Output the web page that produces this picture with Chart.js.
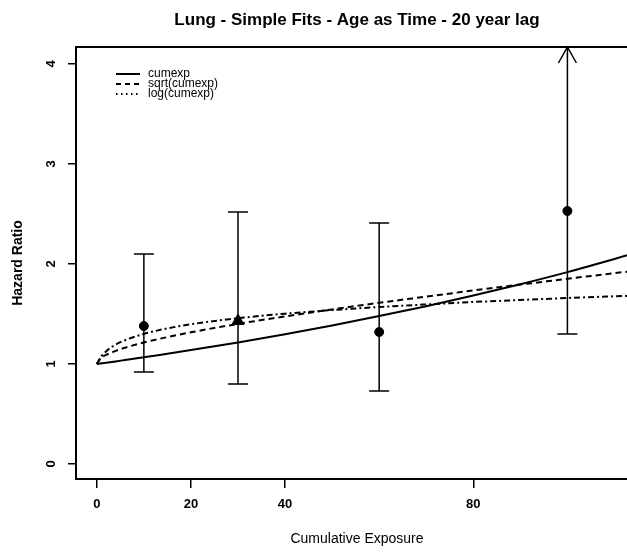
<!DOCTYPE html>
<html>
<head>
<meta charset="utf-8">
<script src="https://cdn.jsdelivr.net/npm/chart.js@4/dist/chart.umd.min.js"></script>
<style>
  html, body { margin: 0; padding: 0; background: #fff; overflow: hidden; }
  canvas { display: block; }
</style>
</head>
<body>
<canvas id="fitChart" width="646" height="553"></canvas>
<script>
// values
const ptX = [10, 30, 60, 100];
const ptHR = [1.38, 1.43, 1.32, 2.53];
const ciLo = [0.92, 0.80, 0.73, 1.30];
const ciHi = [2.10, 2.52, 2.41, null];   // null = off the top, drawn as arrow
const ptStyle = ['circle', 'triangle', 'circle', 'circle'];

const curveX = [0, 1, 2, 4, 6, 10, 15, 20, 30, 40, 50, 60, 70, 80, 90, 100, 115];
const fitLin = [1.00, 1.007, 1.013, 1.026, 1.040, 1.067, 1.103, 1.139, 1.216, 1.298, 1.385, 1.479, 1.578, 1.684, 1.798, 1.919, 2.117];
const fitSqrt = [1.00, 1.064, 1.091, 1.131, 1.163, 1.215, 1.269, 1.317, 1.401, 1.476, 1.546, 1.612, 1.674, 1.735, 1.794, 1.852, 1.936];
const fitLog = [1.00, 1.079, 1.128, 1.193, 1.238, 1.301, 1.356, 1.397, 1.458, 1.503, 1.539, 1.570, 1.596, 1.620, 1.640, 1.660, 1.685];

const seriesNames = ['cumexp', 'sqrt(cumexp)', 'log(cumexp)'];
const xTicks = [0, 20, 40, 80];
const yTicks = [0, 1, 2, 3, 4];

const chartTitle = 'Lung - Simple Fits - Age as Time - 20 year lag';
const xTitle = 'Cumulative Exposure';
const yTitle = 'Hazard Ratio';

const toXY = ys => curveX.map((x, i) => ({ x: x, y: ys[i] }));

// error bars, box, title and in-plot legend
const extras = {
    id: 'extras',
    beforeDatasetsDraw(chart) {
        const ctx = chart.ctx;
        const area = chart.chartArea;
        const xs = chart.scales.x, ys = chart.scales.y;
        ctx.save();
        ctx.strokeStyle = '#000';
        ctx.lineWidth = 1.5;
        ptX.forEach((v, i) => {
            const px = xs.getPixelForValue(v);
            const lo = ys.getPixelForValue(ciLo[i]);
            const hi = ciHi[i] === null ? area.top : ys.getPixelForValue(ciHi[i]);
            ctx.beginPath();
            ctx.moveTo(px, lo);
            ctx.lineTo(px, hi);
            ctx.moveTo(px - 10, lo);
            ctx.lineTo(px + 10, lo);
            if (ciHi[i] === null) {
                ctx.moveTo(px - 9, hi + 16);
                ctx.lineTo(px, hi);
                ctx.lineTo(px + 9, hi + 16);
            } else {
                ctx.moveTo(px - 10, hi);
                ctx.lineTo(px + 10, hi);
            }
            ctx.stroke();
        });
        ctx.restore();
    },
    afterDatasetsDraw(chart) {
        const ctx = chart.ctx;
        const area = chart.chartArea;
        ctx.save();
        ctx.strokeStyle = '#000';
        ctx.fillStyle = '#000';

        // box
        ctx.lineWidth = 2;
        ctx.strokeRect(area.left, area.top, area.right - area.left, area.bottom - area.top);

        // legend
        const dashes = [[], [5, 4], [1.5, 3.5]];
        ctx.font = '12px "Liberation Sans", Arial, sans-serif';
        ctx.textBaseline = 'middle';
        seriesNames.forEach((name, i) => {
            const y = 74 + i * 10;
            ctx.lineWidth = 2;
            ctx.setLineDash(dashes[i]);
            ctx.beginPath();
            ctx.moveTo(116, y);
            ctx.lineTo(140, y);
            ctx.stroke();
            ctx.fillText(name, 148, y);
        });

        // title
        ctx.setLineDash([]);
        ctx.font = 'bold 17px "Liberation Sans", Arial, sans-serif';
        ctx.textAlign = 'center';
        ctx.fillText(chartTitle, (area.left + area.right) / 2, 20);
        ctx.restore();
    }
};

new Chart(document.getElementById('fitChart'), {
    type: 'line',
    data: {
        datasets: [
            {
                label: seriesNames[0],
                data: toXY(fitLin),
                borderColor: '#000',
                borderWidth: 2,
                pointRadius: 0,
                cubicInterpolationMode: 'monotone',
                order: 2
            },
            {
                label: seriesNames[1],
                data: toXY(fitSqrt),
                borderColor: '#000',
                borderWidth: 2,
                borderDash: [6, 4],
                pointRadius: 0,
                cubicInterpolationMode: 'monotone',
                order: 2
            },
            {
                label: seriesNames[2],
                data: toXY(fitLog),
                borderColor: '#000',
                borderWidth: 2,
                borderDash: [6, 3, 2, 3],
                pointRadius: 0,
                cubicInterpolationMode: 'monotone',
                order: 2
            },
            {
                type: 'scatter',
                label: 'observed',
                data: ptX.map((x, i) => ({ x: x, y: ptHR[i] })),
                pointStyle: ptStyle,
                pointRadius: [4.5, 7, 4.5, 4.5],
                backgroundColor: '#000',
                borderColor: '#000',
                borderWidth: 1,
                order: 1
            }
        ]
    },
    options: {
        responsive: false,
        animation: false,
        layout: {
            padding: { top: 47, right: 4, left: 0, bottom: 0 }
        },
        plugins: {
            legend: { display: false },
            title: { display: false },
            tooltip: { enabled: false }
        },
        scales: {
            x: {
                type: 'linear',
                min: -4.42,
                max: 115,
                afterBuildTicks: s => { s.ticks = xTicks.map(v => ({ value: v })); },
                afterFit: s => { s.height = 74; },
                border: { display: false },
                grid: { drawOnChartArea: false, tickLength: 9, color: '#000', lineWidth: 1.5 },
                ticks: {
                    color: '#000',
                    padding: 9,
                    maxRotation: 0,
                    font: { family: '"Liberation Sans", Arial, sans-serif', size: 13, weight: 'bold' }
                },
                title: {
                    display: true,
                    text: xTitle,
                    color: '#000',
                    padding: { top: 0, bottom: 5 },
                    font: { family: '"Liberation Sans", Arial, sans-serif', size: 14 }
                }
            },
            y: {
                min: -0.15,
                max: 4.17,
                afterBuildTicks: s => { s.ticks = yTicks.map(v => ({ value: v })); },
                afterFit: s => { s.width = 76; },
                border: { display: false },
                grid: { drawOnChartArea: false, tickLength: 8, color: '#000', lineWidth: 1.5 },
                ticks: {
                    color: '#000',
                    padding: 13,
                    minRotation: 90,
                    maxRotation: 90,
                    crossAlign: 'center',
                    font: { family: '"Liberation Sans", Arial, sans-serif', size: 13, weight: 'bold' }
                },
                title: {
                    display: true,
                    text: yTitle,
                    color: '#000',
                    padding: { top: 10, bottom: 0 },
                    font: { family: '"Liberation Sans", Arial, sans-serif', size: 14, weight: 'bold' }
                }
            }
        }
    },
    plugins: [extras]
});
</script>
</body>
</html>
